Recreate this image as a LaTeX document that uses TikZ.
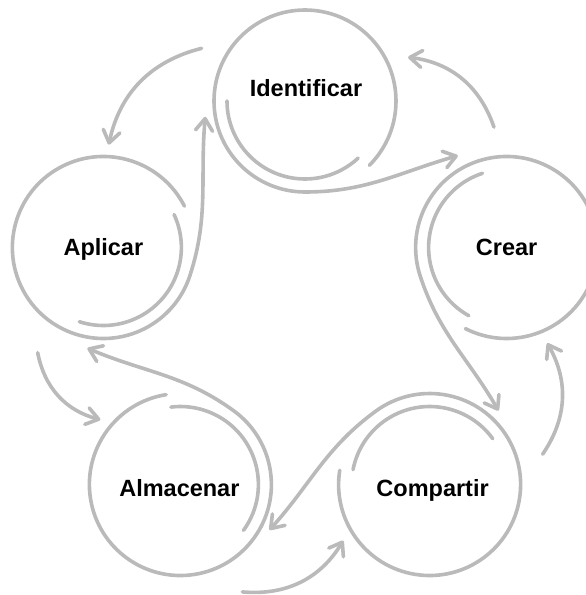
\documentclass[tikz,border=0pt]{standalone}
\usepackage{fontspec}
\setmainfont{Liberation Sans}
\usetikzlibrary{arrows.meta}
\definecolor{ringgray}{RGB}{186,186,186}

\begin{document}
\begin{tikzpicture}[x=1pt, y=1pt, ring/.style={draw=ringgray, line width=3.6pt, line cap=round}, arrow/.style={ring, -{Straight Barb[length=12pt, width=17pt, round]}}, stage/.style={font=\fontsize{23.5}{28}\selectfont\bfseries, inner sep=0pt}]
    \useasboundingbox (-305,-282) rectangle (281,313);
    \clip (-305,-282) rectangle (281,313);

    % circle centres
    \coordinate (idenC) at (90:212);
    \coordinate (crearC) at (18:212);
    \coordinate (compC) at (-54:212);
    \coordinate (almaC) at (-126:212);
    \coordinate (apliC) at (162:212);

    % labels
    \node[stage] (iden) at ([xshift=1, yshift=13]idenC) {Identificar};
    \node[stage] (crear) at (crearC) {Crear};
    \node[stage] (comp) at ([xshift=3, yshift=-6]compC) {Compartir};
    \node[stage] (alma) at ([xshift=-1, yshift=-4]almaC) {Almacenar};
    \node[stage] (apli) at ([yshift=-2]apliC) {Aplicar};

    % inner arcs
    \draw[ring] ([shift={(180:78)}]idenC) arc[start angle=180, end angle=313, radius=78];
    \draw[ring] ([shift={(108:78)}]crearC) arc[start angle=108, end angle=241, radius=78];
    \draw[ring] ([shift={(36:78)}]compC) arc[start angle=36, end angle=169, radius=78];
    \draw[ring] ([shift={(-36:78)}]almaC) arc[start angle=-36, end angle=97, radius=78];
    \draw[ring] ([shift={(-108:78)}]apliC) arc[start angle=-108, end angle=25, radius=78];

    % rings running into the arrows
    \draw[arrow] ([shift={(315:91)}]idenC) arc[start angle=315, end angle=630, radius=91] to[out=0, in=196] ([shift={(118:104)}]crearC);
    \draw[arrow] ([shift={(243:91)}]crearC) arc[start angle=243, end angle=558, radius=91] to[out=288, in=120] ([shift={(47:101)}]compC);
    \draw[arrow] ([shift={(171:91)}]compC) arc[start angle=171, end angle=486, radius=91] to[out=216, in=48] ([shift={(-27:100)}]almaC);
    \draw[arrow] ([shift={(99:91)}]almaC) arc[start angle=99, end angle=414, radius=91] to[out=144, in=337] ([shift={(261:102)}]apliC);
    \draw[arrow] ([shift={(27:91)}]apliC) arc[start angle=27, end angle=342, radius=91] to[out=72, in=265] ([shift={(189:101)}]idenC);

    % outer arrows
    \draw[arrow] ([shift={(96:121)}]crearC) to[bend right=32] ([shift={(23:112)}]idenC);
    \draw[arrow] ([shift={(153:116)}]idenC) to[bend right=32] ([shift={(87:103)}]apliC);
    \draw[arrow] ([shift={(238:124)}]apliC) to[bend right=32] ([shift={(141:103)}]almaC);
    \draw[arrow] ([shift={(-60:124)}]almaC) to[bend right=32] ([shift={(213:103)}]compC);
    \draw[arrow] ([shift={(15:117)}]compC) to[bend right=32] ([shift={(-67:104)}]crearC);
\end{tikzpicture}
\end{document}
